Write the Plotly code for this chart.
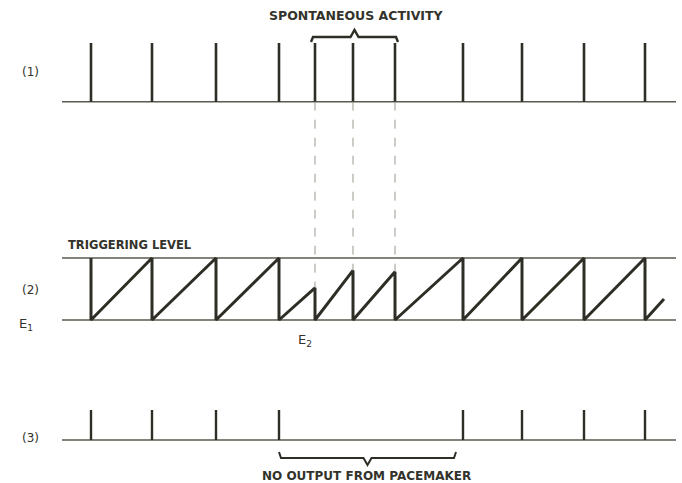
import plotly.graph_objects as go

W, H = 682, 483

# ---- data (time in arbitrary units) ----
beat_times = [0, 61, 125, 188, 224, 262, 304, 372, 431, 493, 554]      # trace (1): all beats
spontaneous_times = [224, 262, 304]                                      # spontaneous activity
peak_levels = [1, 1, 1, 1, 0.52, 0.80, 0.78, 1, 1, 1, 1]                 # trace (2): level reached before each reset
final_ramp_t, final_ramp_v = 573, 0.34                                   # last partial ramp
pacer_output_times = [0, 61, 125, 188, 372, 431, 493, 554]               # trace (3): pacemaker output
row_labels = ["(1)", "(2)", "(3)"]
span = [-29, 585]

INK = "#2e2e26"
BASE = "#5a5a50"

# axis geometry
XR = [-91, 591]
Y1R, Y1D = [-0.2, 1.2], [0.7652, 0.9352]
Y2R, Y2D = [-0.2, 1.2], [0.3118, 0.4915]
Y3R, Y3D = [-0.4, 1.4], [0.0642, 0.1760]


def to_paper(v, rng, dom):
    return dom[0] + (v - rng[0]) / (rng[1] - rng[0]) * (dom[1] - dom[0])


def py(pix):
    return 1 - pix / H


def spikes(times):
    xs, ys = [], []
    for t in times:
        xs += [t, t, None]
        ys += [0, 1, None]
    return xs, ys


fig = go.Figure()

# baselines
for ya in ["y", "y3"]:
    fig.add_trace(go.Scatter(x=span, y=[0, 0], xaxis="x", yaxis=ya, mode="lines",
                             line=dict(color=BASE, width=1.6), hoverinfo="skip"))
# row 2: E1 and triggering level
for lvl in [0, 1]:
    fig.add_trace(go.Scatter(x=span, y=[lvl, lvl], xaxis="x", yaxis="y2", mode="lines",
                             line=dict(color=BASE, width=1.6), hoverinfo="skip"))

# row 1 spikes
sx, sy = spikes(beat_times)
fig.add_trace(go.Scatter(x=sx, y=sy, xaxis="x", yaxis="y", mode="lines",
                         line=dict(color=INK, width=2.6), hoverinfo="skip"))

# row 2 sawtooth
zx, zy = [], []
for t, p in zip(beat_times, peak_levels):
    zx += [t, t]
    zy += [p, 0]
zx.append(final_ramp_t)
zy.append(final_ramp_v)
fig.add_trace(go.Scatter(x=zx, y=zy, xaxis="x", yaxis="y2", mode="lines",
                         line=dict(color=INK, width=3), hoverinfo="skip"))

# row 3 spikes
ox, oy = spikes(pacer_output_times)
fig.add_trace(go.Scatter(x=ox, y=oy, xaxis="x", yaxis="y3", mode="lines",
                         line=dict(color=INK, width=2.4), hoverinfo="skip"))

shapes = []
# dashed connectors
for t in spontaneous_times:
    lvl = peak_levels[beat_times.index(t)]
    shapes.append(dict(type="line", xref="x", yref="paper", x0=t, x1=t,
                       y0=to_paper(0, Y1R, Y1D), y1=to_paper(lvl, Y2R, Y2D),
                       line=dict(color="#9a9a90", width=1, dash="dash")))

# bracket above spontaneous activity
a, b = spontaneous_times[0] - 4, spontaneous_times[-1] + 3
m = (a + b) / 2
yb, yt, yn = py(42), py(37), py(30)
shapes.append(dict(type="path", xref="x", yref="paper",
                   path=f"M {a},{yb} L {a+2},{yt} L {m-4},{yt} L {m},{yn} L {m+4},{yt} L {b-2},{yt} L {b},{yb}",
                   line=dict(color=INK, width=2.4)))

# bracket below missing pacemaker output
gap = [t for t in pacer_output_times]
i = max(k for k in range(len(gap) - 1) if gap[k + 1] - gap[k] > 100)
a, b = gap[i], gap[i + 1] - 7
m = (a + b) / 2
yb, yt, yn = py(452), py(458), py(465)
shapes.append(dict(type="path", xref="x", yref="paper",
                   path=f"M {a},{yb} L {a+2},{yt} L {m-4},{yt} L {m},{yn} L {m+4},{yt} L {b-2},{yt} L {b},{yb}",
                   line=dict(color=INK, width=2)))

FONT = dict(family="DejaVu Sans", size=11, color="#33332b", weight="bold")
ann = []


def text(s, x, y, anchor="center", size=None, weight=None):
    f = dict(FONT)
    if size:
        f["size"] = size
    if weight:
        f["weight"] = weight
    ann.append(dict(text=s, x=x / W, y=py(y), xref="paper", yref="paper",
                    xanchor=anchor, yanchor="middle", showarrow=False, font=f))


text("SPONTANEOUS ACTIVITY", 356, 16, size=12.5)
text("TRIGGERING LEVEL", 66, 245, anchor="left", size=11.5)
text("NO OUTPUT FROM PACEMAKER", 366, 476, size=12)
for lab, yy in zip(row_labels, [72, 290, 438]):
    text(lab, 30, yy, size=12, weight="normal")
text("E<sub>1</sub>", 26, 324, size=13, weight="normal")
text("E<sub>2</sub>", 305, 340, size=13, weight="normal")

hide = dict(visible=False, fixedrange=True)
fig.update_layout(
    width=W, height=H,
    margin=dict(l=0, r=0, t=0, b=0),
    paper_bgcolor="white", plot_bgcolor="white",
    showlegend=False,
    xaxis=dict(range=XR, domain=[0, 1], anchor="y3", **hide),
    yaxis=dict(range=Y1R, domain=Y1D, anchor="x", **hide),
    yaxis2=dict(range=Y2R, domain=Y2D, anchor="x", **hide),
    yaxis3=dict(range=Y3R, domain=Y3D, anchor="x", **hide),
    shapes=shapes,
    annotations=ann,
)

fig.write_html("out.html",
               config={"displayModeBar": False},
               post_script="document.body.style.margin='0';document.body.style.overflow='hidden';")
